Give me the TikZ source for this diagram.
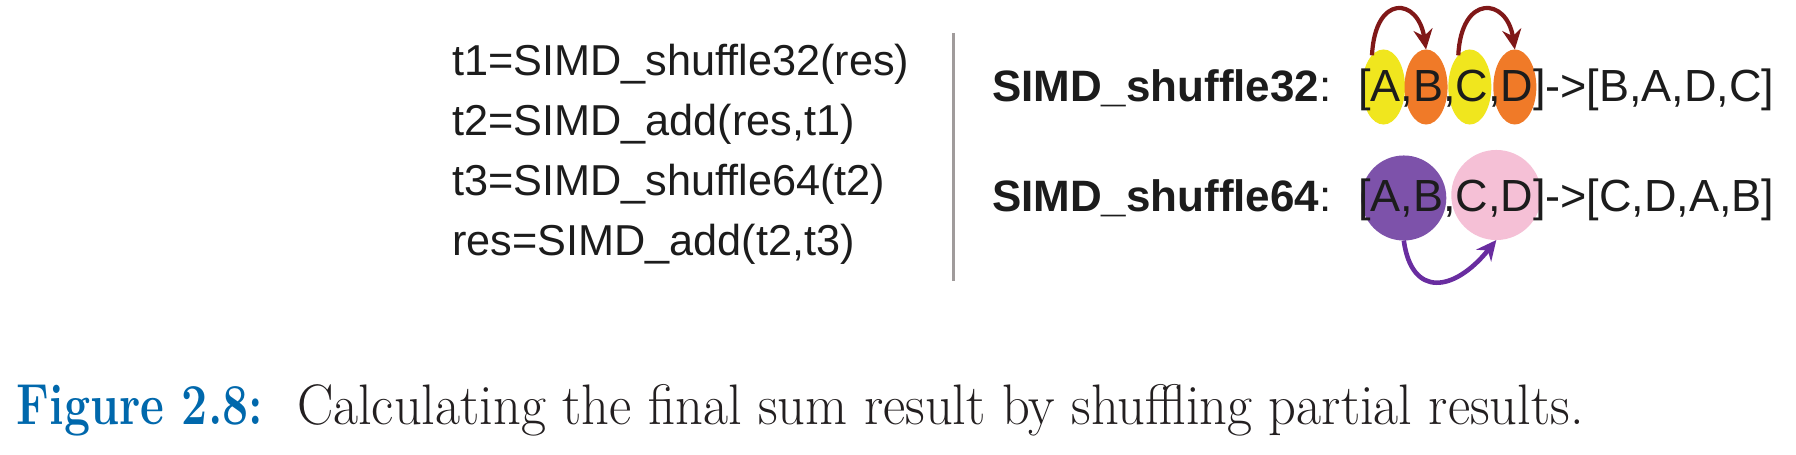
\documentclass[tikz,border=0pt]{standalone}
\usepackage{fontspec}
\usepackage{graphicx}
\newfontfamily\arialfam{Liberation Sans}
\usetikzlibrary{arrows.meta,shapes.geometric,calc}
\pgfdeclarelayer{background}
\pgfsetlayers{background,main}
\definecolor{ylw}{RGB}{240,230,30}
\definecolor{org}{RGB}{240,122,40}
\definecolor{arrred}{RGB}{128,24,24}
\definecolor{purp}{RGB}{125,82,170}
\definecolor{pinkc}{RGB}{245,192,214}
\definecolor{purparrc}{RGB}{105,45,160}
\definecolor{divc}{RGB}{160,155,155}
\definecolor{txtc}{RGB}{28,28,28}
\definecolor{capblue}{RGB}{0,104,172}
\definecolor{capblack}{RGB}{35,31,32}
\newcommand\codefont{\arialfam\fontsize{12.3pt}{14pt}\selectfont}
\newcommand\labfont{\arialfam\fontsize{12.5pt}{14pt}\selectfont}
\newcommand\brfont{\arialfam\fontsize{12.8pt}{14pt}\selectfont}
\begin{document}
\begin{tikzpicture}[x=0.01cm,y=-0.01cm,
  code/.style={anchor=base west, inner sep=0pt, outer sep=0pt, text=txtc, font=\codefont},
  lab/.style={anchor=base west, inner sep=0pt, outer sep=0pt, text=txtc, font=\labfont},
  ch/.style={anchor=base west, inner sep=0pt, outer sep=0pt, text=txtc, font=\brfont},
  ell/.style={ellipse, draw=none, inner sep=0pt, outer sep=0pt, minimum width=0.43cm, minimum height=0.75cm},
  circ/.style={circle, draw=none, inner sep=0pt, outer sep=0pt},
  redarr/.style={draw=arrred, line width=1.2pt, -{Stealth[length=2mm, width=1.9mm]}},
  purparr/.style={draw=purparrc, line width=1.3pt, -{Stealth[length=2mm, width=1.9mm]}},
  divline/.style={draw=divc, line width=0.85pt},
  captxt/.style={anchor=base west, inner sep=0pt, outer sep=0pt}
]
\begin{pgfonlayer}{background}
\fill[white] (0,0) rectangle (1796,455);
\end{pgfonlayer}
\useasboundingbox (0,0) rectangle (1796,455);

% code lines
\node[code] (l1) at (452,76) {t1=SIMD\_shuffle32(res)};
\node[code] (l2) at (452,136) {t2=SIMD\_add(res,t1)};
\node[code] (l3) at (452,196) {t3=SIMD\_shuffle64(t2)};
\node[code] (l4) at (452,256) {res=SIMD\_add(t2,t3)};

% divider
\coordinate (vt) at (953,33);
\coordinate (vb) at (953,281);
\draw[divline] (vt) -- (vb);

% row 1
\node[lab] (s32) at (992,102) {\textbf{SIMD\_shuffle32}:};
\node[ch] (r1o) at (1358,102) {[};
\node[ch] (r1A) at (r1o.base east) {A};
\node[ch] (r1c1) at (r1A.base east) {,};
\node[ch] (r1B) at (r1c1.base east) {B};
\node[ch] (r1c2) at (r1B.base east) {,};
\node[ch] (r1C) at (r1c2.base east) {C};
\node[ch] (r1c3) at (r1C.base east) {,};
\node[ch] (r1D) at (r1c3.base east) {D};
\node[ch] (r1t) at (r1D.base east) {]->[B,A,D,C]};

% row 2
\node[lab] (s64) at (992,212) {\textbf{SIMD\_shuffle64}:};
\node[ch] (r2o) at (1358,212) {[};
\node[ch] (r2A) at (r2o.base east) {A};
\node[ch] (r2c1) at (r2A.base east) {,};
\node[ch] (r2B) at (r2c1.base east) {B};
\node[ch] (r2c2) at (r2B.base east) {,};
\node[ch] (r2C) at (r2c2.base east) {C};
\node[ch] (r2c3) at (r2C.base east) {,};
\node[ch] (r2D) at (r2c3.base east) {D};
\node[ch] (r2t) at (r2D.base east) {]->[C,D,A,B]};

\begin{pgfonlayer}{background}
\node[ell, fill=ylw] (eA) at ($(r1A.base)+(-2,-15)$) {};
\node[ell, fill=org] (eB) at ($(r1B.base)+(-2,-15)$) {};
\node[ell, fill=ylw] (eC) at ($(r1C.base)+(-2,-15)$) {};
\node[ell, fill=org] (eD) at ($(r1D.base)+(-2,-15)$) {};
\node[circ, fill=purp, minimum size=0.85cm] (pAB) at ($(r2A.base)!0.5!(r2B.base)+(-3,-14)$) {};
\node[circ, fill=pinkc, minimum size=0.90cm] (pCD) at ($(r2C.base)!0.5!(r2D.base)+(2,-17)$) {};
\end{pgfonlayer}

% arrows
\draw[redarr] (eA.110) .. controls +(3,-62) and +(-8,-52) .. (eB.north);
\draw[redarr] (eC.110) .. controls +(3,-62) and +(-8,-52) .. (eD.north);
\draw[purparr] (pAB.south) .. controls +(8,58) and +(-42,52) .. (pCD.south);

% caption
\node[captxt] (capfig) at (17,425)
  {\resizebox{70pt}{11.2pt}{\fontsize{16pt}{18pt}\selectfont\textcolor{capblue}{\textbf{Figure 2.8:}}}};
\node[captxt] (captext) at (297,425)
  {\resizebox{365.9pt}{11.4pt}{\fontsize{16pt}{18pt}\selectfont\textcolor{capblack}{Calculating the final sum result by shuffling partial results.}}};
\end{tikzpicture}
\end{document}
